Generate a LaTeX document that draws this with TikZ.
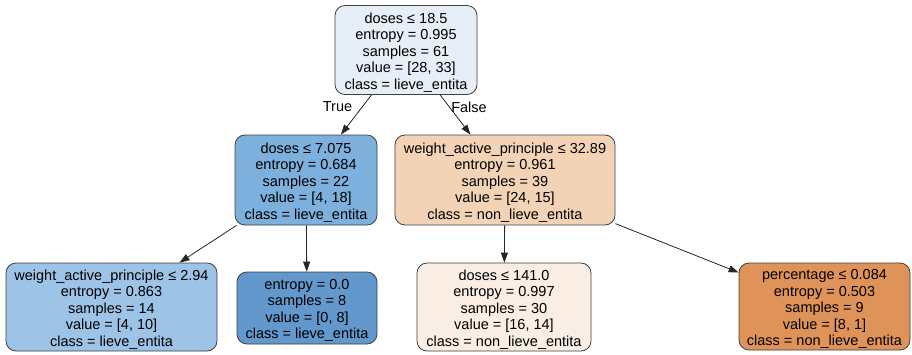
\documentclass[tikz,border=0pt]{standalone}
\usepackage{fontspec}
\setmainfont{Liberation Sans}
\usetikzlibrary{arrows.meta}
\definecolor{cRoot}{HTML}{E6EEF8}
\definecolor{cL}{HTML}{7EB0DD}
\definecolor{cR}{HTML}{F3D3B5}
\definecolor{cA}{HTML}{9DC3E6}
\definecolor{cB}{HTML}{6398CC}
\definecolor{cC}{HTML}{FAEEE4}
\definecolor{cD}{HTML}{DF9358}
\newcommand{\topstrut}{\rule{0pt}{15pt}}
\begin{document}
\begin{tikzpicture}[x=1pt,y=1pt,
  tnode/.style={draw=black!75, line width=0.8pt, rounded corners=10pt, align=center, inner sep=0pt, font=\fontsize{14.5}{16.5}\selectfont},
  edge/.style={draw=black!85, line width=0.8pt, -{Triangle[length=10pt,width=7pt]}},
  lbl/.style={font=\fontsize{14.5}{16.5}\selectfont}]
\fill[white] (0,0) rectangle (912,354);
\useasboundingbox (0,0) rectangle (912,354);
\node[tnode, fill=cRoot, minimum width=142pt, minimum height=89pt] (root) at (406,304)
  {\topstrut doses ≤ 18.5\\entropy = 0.995\\samples = 61\\value = [28, 33]\\class = lieve\_entita};
\node[tnode, fill=cL, minimum width=142pt, minimum height=90pt] (left) at (306,174)
  {\topstrut doses ≤ 7.075\\entropy = 0.684\\samples = 22\\value = [4, 18]\\class = lieve\_entita};
\node[tnode, fill=cR, minimum width=220pt, minimum height=90pt] (right) at (505,174)
  {\topstrut weight\_active\_principle ≤ 32.89\\entropy = 0.961\\samples = 39\\value = [24, 15]\\class = non\_lieve\_entita};
\node[tnode, fill=cA, minimum width=211pt, minimum height=88pt] (a) at (111.5,47)
  {\topstrut weight\_active\_principle ≤ 2.94\\entropy = 0.863\\samples = 14\\value = [4, 10]\\class = lieve\_entita};
\node[tnode, fill=cB, minimum width=140pt, minimum height=72pt] (b) at (307,46)
  {\topstrut entropy = 0.0\\samples = 8\\value = [0, 8]\\class = lieve\_entita};
\node[tnode, fill=cC, minimum width=174pt, minimum height=88pt] (c) at (504,47)
  {\topstrut doses ≤ 141.0\\entropy = 0.997\\samples = 30\\value = [16, 14]\\class = non\_lieve\_entita};
\node[tnode, fill=cD, minimum width=171pt, minimum height=87pt] (d) at (824.5,47.5)
  {\topstrut percentage ≤ 0.084\\entropy = 0.503\\samples = 9\\value = [8, 1]\\class = non\_lieve\_entita};
\draw[edge] (root) -- (left);
\draw[edge] (root) -- (right);
\draw[edge] (left) -- (a);
\draw[edge] (left) -- (b);
\draw[edge] (right) -- (c);
\draw[edge] (right) -- (d);
\node[lbl] (t) at (337.5,247) {True};
\node[lbl] (f) at (469,247) {False};
\end{tikzpicture}
\end{document}
